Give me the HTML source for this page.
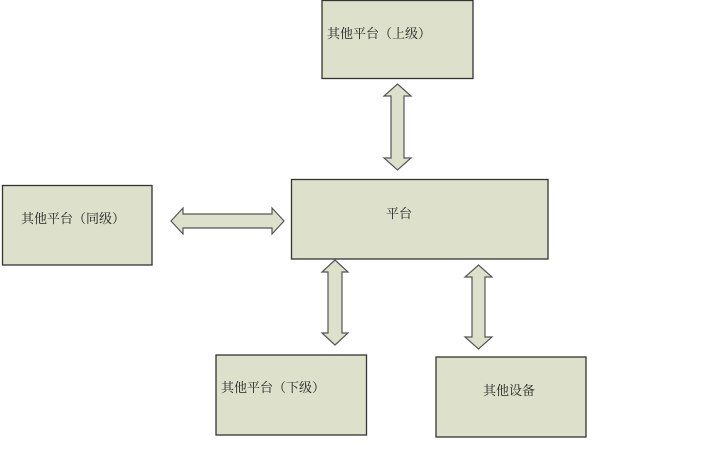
<!DOCTYPE html>
<html><head><meta charset="utf-8"><style>
html,body{margin:0;padding:0;background:#fff;}
svg{display:block;}
text{font-family:"Liberation Serif","Noto Serif CJK SC","Noto Sans CJK SC",serif;font-size:13px;fill:#222;}
</style></head><body>
<svg width="701" height="450" viewBox="0 0 701 450" xmlns="http://www.w3.org/2000/svg">
<g fill="#dde1cb" stroke="#333" stroke-width="1.3">
<rect x="322" y="0.5" width="151" height="78"/>
<rect x="2.5" y="185.5" width="149.5" height="79.5"/>
<rect x="291.5" y="179.5" width="256.5" height="79.5"/>
<rect x="216" y="355" width="150.5" height="80"/>
<rect x="436" y="357" width="150" height="80"/>
</g>
<g fill="#dde1cb" stroke="#555" stroke-width="1.2">
<path d="M397.5 84 L411 96 L404 96 L404 158 L411 158 L397.5 170 L384 158 L391 158 L391 96 L384 96 Z"/>
<path d="M335 260 L348 272 L342 272 L342 333 L348 333 L335 345 L322 333 L328 333 L328 272 L322 272 Z"/>
<path d="M478.5 265 L492 277 L485 277 L485 337 L492 337 L478.5 349 L465 337 L472 337 L472 277 L465 277 Z"/>
<path d="M171 221 L183 208 L183 214 L272 214 L272 208 L284 221 L272 234 L272 228 L183 228 L183 234 Z"/>
</g>
<text x="327" y="38">其他平台（上级）</text>
<text x="21" y="223">其他平台（同级）</text>
<text x="386" y="218">平台</text>
<text x="221" y="392">其他平台（下级）</text>
<text x="483" y="395">其他设备</text>
</svg>
</body></html>
